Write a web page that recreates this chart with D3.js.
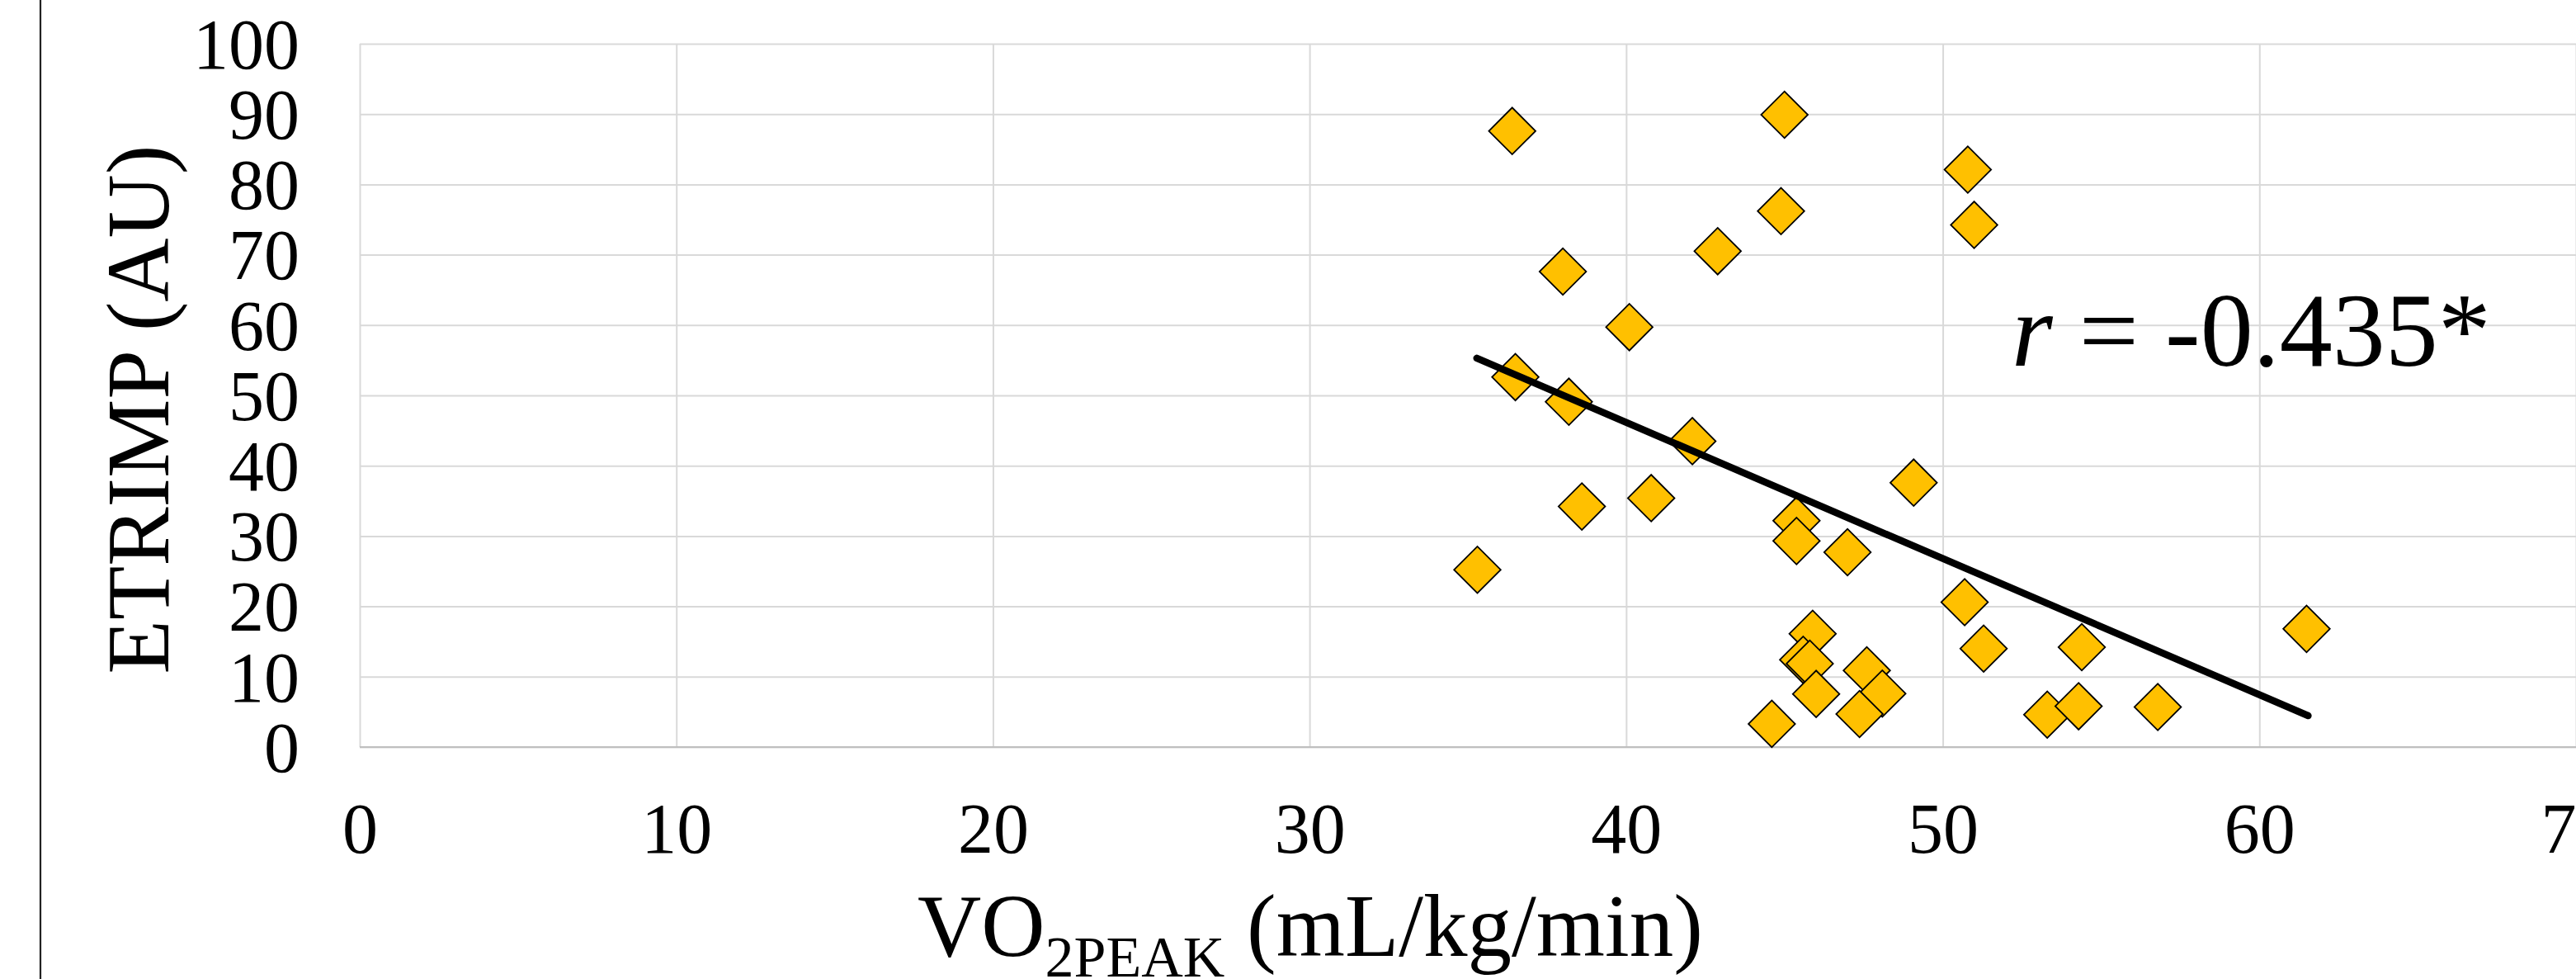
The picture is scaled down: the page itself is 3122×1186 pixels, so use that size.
<!DOCTYPE html>
<html>
<head>
<meta charset="utf-8">
<script src="https://cdn.jsdelivr.net/npm/d3@7"></script>
<style>
  html, body { margin: 0; padding: 0; background: #fff; }
  svg { display: block; }
</style>
</head>
<body>
<script>
// ---- data ----
const vo2 = [36.40, 45.00, 38.00, 42.89, 44.89, 40.10, 36.50, 38.19, 50.79, 50.99,
             42.09, 38.60, 40.79, 35.30, 45.38, 45.38, 46.99, 45.89, 45.59, 45.80,
             46.00, 47.60, 48.09, 47.37, 44.60, 49.08, 50.69, 51.29, 54.39, 53.30,
             54.29, 56.79, 61.49];
const etrimp = [87.6, 89.9, 67.6, 70.5, 76.2, 59.7, 52.6, 49.1, 82.1, 74.25,
                43.5, 34.2, 35.4, 25.2, 32.2, 29.3, 27.7, 16.1, 12.4, 11.85,
                7.55, 10.9, 7.6, 4.7, 3.3, 37.6, 20.6, 14.0, 14.2, 4.6,
                5.8, 5.7, 16.8];
const trendX = [35.28, 61.54];
const trendY = [55.3, 4.46];
const xTicks = [0, 10, 20, 30, 40, 50, 60, 70];
const yTicks = [0, 10, 20, 30, 40, 50, 60, 70, 80, 90, 100];
const annotation = "-0.435*";

// ---- layout ----
const W = 3122, H = 1186;
const mLeft = 436, mRight = 3122, mTop = 53, mBottom = 905;
const font = "'Liberation Serif', 'Times New Roman', Times, serif";

const svg = d3.select("body").append("svg")
  .attr("width", W).attr("height", H)
  .style("font-family", font);

const x = d3.scaleLinear().domain([0, 70]).range([mLeft, mRight]);
const y = d3.scaleLinear().domain([0, 100]).range([mBottom, mTop]);

// left border line
svg.append("line").attr("x1", 49).attr("x2", 49).attr("y1", 0).attr("y2", H)
  .attr("stroke", "#222").attr("stroke-width", 2.2);

// y axis with gridlines
const yAxis = svg.append("g").attr("transform", `translate(${mLeft},0)`)
  .call(d3.axisLeft(y).tickValues(yTicks).tickSize(-(mRight - mLeft)).tickPadding(73));
yAxis.select(".domain").remove();
yAxis.selectAll(".tick line").attr("stroke", "#D9D9D9").attr("stroke-width", 2);
yAxis.selectAll(".tick text").attr("font-size", 86).attr("fill", "#000")
  .attr("font-family", font).attr("dy", "0.34em");

// x axis with gridlines
const xAxis = svg.append("g").attr("transform", `translate(0,${mBottom})`)
  .call(d3.axisBottom(x).tickValues(xTicks).tickSize(-(mBottom - mTop)).tickPadding(0));
xAxis.select(".domain").remove();
xAxis.selectAll(".tick line").attr("stroke", "#D9D9D9").attr("stroke-width", 2);
xAxis.selectAll(".tick text").attr("font-size", 86).attr("fill", "#000")
  .attr("font-family", font).attr("y", 128).attr("dy", 0);

// bottom axis line
svg.append("line").attr("x1", mLeft).attr("x2", mRight).attr("y1", mBottom).attr("y2", mBottom)
  .attr("stroke", "#BFBFBF").attr("stroke-width", 2.2);

// points
const pts = vo2.map((v, i) => ({ x: v, y: etrimp[i] }));
const sym = d3.symbol().type(d3.symbolSquare).size(1600);
svg.append("g").selectAll("path").data(pts).join("path")
  .attr("d", sym)
  .attr("transform", d => `translate(${x(d.x)},${y(d.y)}) rotate(45)`)
  .attr("fill", "#FFC000")
  .attr("stroke", "#000")
  .attr("stroke-width", 1.8);

// trendline
svg.append("path")
  .datum(trendX.map((v, i) => [v, trendY[i]]))
  .attr("d", d3.line().x(d => x(d[0])).y(d => y(d[1])))
  .attr("fill", "none").attr("stroke", "#000")
  .attr("stroke-width", 8.5).attr("stroke-linecap", "round");

// annotation
const ann = svg.append("text").attr("x", 2438).attr("y", 443)
  .attr("font-size", 128).attr("fill", "#000");
ann.append("tspan").attr("font-style", "italic").text("r");
ann.append("tspan").text(" = " + annotation);

// y axis title
svg.append("text")
  .attr("transform", `translate(204,${(176 + 816) / 2}) rotate(-90)`)
  .attr("text-anchor", "middle")
  .attr("font-size", 107).attr("fill", "#000")
  .text("ETRIMP (AU)");

// x axis title
const xt = svg.append("text").attr("x", 1112).attr("y", 1158)
  .attr("font-size", 107).attr("fill", "#000");
xt.append("tspan").text("VO");
xt.append("tspan").attr("font-size", 70).attr("dy", 25).text("2PEAK");
xt.append("tspan").attr("dy", -25).text(" (mL/kg/min)");
</script>
</body>
</html>
